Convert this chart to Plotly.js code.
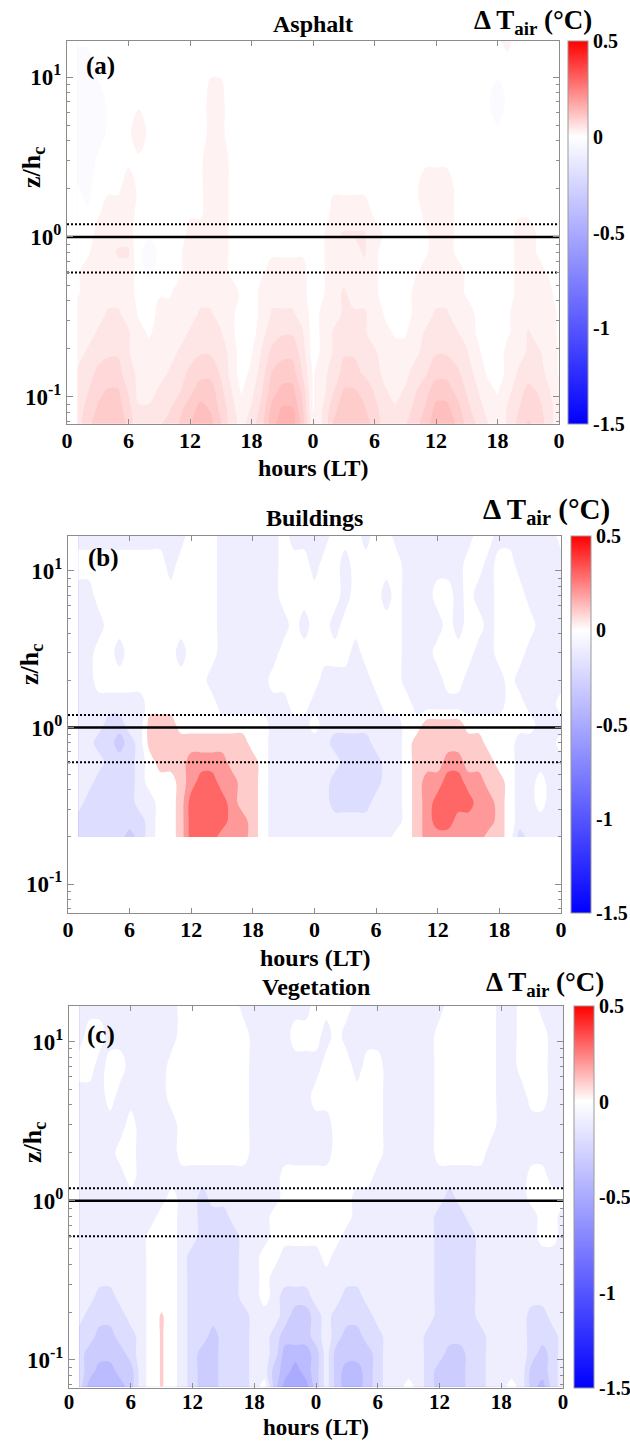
<!DOCTYPE html>
<html><head><meta charset="utf-8">
<script src="https://cdn.plot.ly/plotly-3.0.1.min.js"></script>
<style>html,body{margin:0;padding:0;background:#fff}#chart{width:630px;height:1441px}</style>
</head><body><div id="chart"></div>
<script>
// ---------------- DATA ----------------
const hours = [1,2,3,4,5,6,7,8,9,10,11,12,13,14,15,16,17,18,19,20,21,22,23,24,25,26,27,28,29,30,31,32,33,34,35,36,37,38,39,40,41,42,43,44,45,46,47,48];
const tickHours = [0,6,12,18,24,30,36,42,48];
const tickHourLabels = ['0','6','12','18','0','6','12','18','0'];
const heightsAsphaltVeg = [0.068,0.085,0.11,0.14,0.19,0.25,0.33,0.45,0.6,0.8,1.05,1.4,2,3,4.5,7,11,17];
const heightsBuildings = [0.2,0.25,0.33,0.45,0.6,0.8,1.05,1.4,2,3,4.5,7,11,17];
const yMajorTicks = [0.1,1,10];
const yMajorLabels = ['10<sup>-1</sup>','10<sup>0</sup>','10<sup>1</sup>'];
const yMinorTicks = [0.07,0.08,0.09,0.2,0.3,0.4,0.5,0.6,0.7,0.8,0.9,2,3,4,5,6,7,8,9];
const canopyTop = 1.2, canopyMid = 1.0, canopyBottom = 0.6;
const cbTicks = [-1.5,-1,-0.5,0,0.5];
const cbTickLabels = ['-1.5','-1','-0.5','0','0.5'];
const panelTitles = ['Asphalt','Buildings','Vegetation'];
const panelLetters = ['(a)','(b)','(c)'];

// each inner array = vertical profile at one hour (bottom -> top)
const dTAsphalt = [
[0.05,0.05,0.04,0.04,0.03,0.02,0.02,0.01,0.01,0,0,0,-0.01,-0.02,-0.02,-0.02,-0.02,-0.01],
[0.08,0.07,0.06,0.05,0.04,0.03,0.03,0.02,0.02,0.01,0,-0.01,-0.02,-0.02,-0.02,-0.02,-0.02,-0.01],
[0.1,0.09,0.08,0.07,0.05,0.04,0.03,0.03,0.02,0.02,0.02,0.01,0,-0.01,-0.02,-0.02,-0.01,-0.01],
[0.11,0.1,0.09,0.07,0.06,0.05,0.04,0.03,0.03,0.03,0.02,0.02,0.01,0,-0.01,-0.01,0,0],
[0.11,0.1,0.09,0.07,0.06,0.05,0.04,0.03,0.03,0.04,0.03,0.02,0.01,0.01,0,-0.01,-0.01,0],
[0.08,0.07,0.06,0.05,0.04,0.04,0.03,0.03,0.03,0.04,0.03,0.03,0.02,0.01,0.01,0,0,0],
[0.04,0.04,0.03,0.03,0.02,0.02,0.01,0,0,-0.01,-0.01,0,0.01,0.01,0.02,0.01,0,0],
[0.05,0.04,0.03,0.03,0.02,0.01,0,0,-0.02,-0.02,-0.01,0,0,0.01,0.01,0,-0.01,0],
[0.06,0.05,0.04,0.03,0.03,0.02,0.02,0.01,0,-0.01,0,0,0,0,0,0,-0.01,0],
[0.07,0.06,0.05,0.04,0.03,0.02,0.02,0.01,0,0,0,0,0,0,0,0,0,0],
[0.09,0.08,0.06,0.05,0.04,0.03,0.02,0.02,0.01,0.01,0,0,0,0,0,0,0,0],
[0.11,0.1,0.08,0.07,0.05,0.04,0.03,0.03,0.02,0.02,0.02,0.01,0.01,0,0,0,0,0],
[0.13,0.12,0.1,0.08,0.06,0.05,0.04,0.03,0.02,0.02,0.02,0.01,0.01,0.01,0,0,0,0],
[0.12,0.11,0.1,0.08,0.06,0.05,0.04,0.03,0.02,0.02,0.02,0.02,0.02,0.02,0.02,0.02,0.01,0],
[0.09,0.08,0.07,0.06,0.05,0.04,0.03,0.03,0.02,0.02,0.02,0.02,0.02,0.02,0.02,0.02,0.01,0],
[0.05,0.05,0.04,0.03,0.03,0.02,0.02,0.02,0.01,0.01,0.01,0.01,0.01,0.01,0,0,0,0],
[0.03,0.02,0.01,0,0,0,0,0.01,0.01,0.01,0,0,0,0,0,0,0,0],
[0.05,0.04,0.03,0.02,0.01,0,0,0,0,0,0,0,0,0,0,0,0,0],
[0.08,0.07,0.06,0.05,0.04,0.03,0.02,0.02,0.01,0.01,0.01,0.01,0.01,0.01,0,0,0,0],
[0.13,0.12,0.1,0.09,0.07,0.05,0.04,0.03,0.02,0.01,0.01,0.01,0.01,0.01,0,0,0,0],
[0.15,0.14,0.12,0.1,0.08,0.06,0.04,0.03,0.02,0.01,0,0,0,0,0,0,0,0],
[0.15,0.14,0.12,0.1,0.08,0.06,0.04,0.03,0.02,0.01,0,0,0,0,0,0,0,0],
[0.1,0.09,0.08,0.06,0.05,0.04,0.03,0.02,0.02,0.01,0,0,0,0,0,0,0,0],
[0.02,0.01,0.01,0.01,0,0,0,0,0,0,0,0,0,0,0,0,0,0],
[0.04,0.04,0.03,0.03,0.02,0.02,0.02,0.01,0.01,0.01,0.01,0,0,0,0,0,0.01,0.01],
[0.09,0.08,0.06,0.05,0.04,0.04,0.03,0.03,0.03,0.03,0.03,0.02,0.01,0,0,0,0,0],
[0.11,0.1,0.09,0.07,0.06,0.05,0.04,0.04,0.03,0.03,0.04,0.02,0.01,0,0,0,0,0],
[0.11,0.1,0.09,0.07,0.06,0.05,0.04,0.03,0.03,0.03,0.04,0.02,0.01,0,0,0,0,0],
[0.1,0.09,0.08,0.06,0.05,0.04,0.04,0.03,0.03,0.04,0.04,0.02,0.01,0,0,0,0,0],
[0.08,0.07,0.06,0.05,0.04,0.03,0.03,0.02,0.02,0.02,0.02,0.01,0,0,0,0,0,0],
[0.05,0.05,0.04,0.03,0.03,0.02,0.01,0,0,0,0.01,0,0,0,0,0,0,0],
[0.05,0.04,0.03,0.03,0.02,0.01,0,0,0,0,0,0,0,0,0,0,0,0],
[0.06,0.05,0.04,0.03,0.02,0.01,0,0,0,0,0,0,0,0,0,0,0,0],
[0.08,0.07,0.06,0.05,0.03,0.03,0.02,0.02,0.01,0.01,0,0,0.01,0.01,0,0,0,0],
[0.1,0.09,0.08,0.06,0.05,0.04,0.03,0.02,0.02,0.01,0.01,0.02,0.02,0.01,0,0,0,0],
[0.13,0.12,0.1,0.08,0.06,0.05,0.04,0.03,0.02,0.02,0.02,0.02,0.02,0.01,0,0,0,0],
[0.13,0.12,0.1,0.08,0.06,0.05,0.04,0.03,0.02,0.02,0.02,0.02,0.02,0.01,0.01,0,0,0],
[0.11,0.1,0.08,0.07,0.05,0.04,0.03,0.02,0.02,0.01,0.01,0.01,0.01,0.01,0.01,0,0,0],
[0.08,0.07,0.06,0.05,0.04,0.03,0.02,0.01,0.01,0.01,0,0,0.01,0.01,0.01,0,0,0],
[0.06,0.05,0.04,0.03,0.02,0.01,0.01,0,0,0,0,0,0,0,0,0,0,0],
[0.04,0.03,0.02,0.01,0,0,0,0,0,0,0,0,0,0,0,-0.01,-0.01,0],
[0.02,0.02,0.01,0,0,0,0,0,0,0,0,0,0,0,-0.01,-0.02,-0.01,0.01],
[0.04,0.04,0.03,0.02,0.02,0.01,0.01,0,0,0,0,0,0,0,-0.01,-0.01,0,0.02],
[0.07,0.06,0.05,0.04,0.03,0.02,0.02,0.02,0.02,0.02,0.02,0.01,0,0,0,0,0,0],
[0.09,0.08,0.07,0.05,0.04,0.04,0.03,0.03,0.02,0.02,0.02,0.01,0,0,0,0,0,0],
[0.08,0.07,0.06,0.05,0.04,0.03,0.03,0.02,0.02,0.01,0.01,0,0,0,0,0,0,0],
[0.05,0.05,0.04,0.03,0.03,0.02,0.02,0.02,0.01,0.01,0,0,0,0,0,0,0,0],
[0.02,0.02,0.02,0.01,0.01,0.01,0.01,0,0,0,0,0,0,0,0,0,0,0]
];

const dTBuildings = [
[-0.2,-0.2,-0.1,-0.1,-0.1,-0.1,-0.1,-0.1,-0.1,-0.1,-0.1,-0.1,0,-0.1],
[-0.2,-0.2,-0.2,-0.1,-0.1,-0.1,-0.1,-0.1,-0.1,-0.1,-0.1,-0.1,0,-0.1],
[-0.2,-0.2,-0.2,-0.2,-0.1,-0.2,-0.1,-0.1,0,0,-0.1,0,0,-0.1],
[-0.2,-0.2,-0.2,-0.2,-0.2,-0.2,-0.2,-0.1,0,0,0,0,0,-0.1],
[-0.2,-0.2,-0.2,-0.2,-0.2,-0.3,-0.2,-0.1,0,-0.1,0,0,0,-0.1],
[-0.3,-0.2,-0.2,-0.2,-0.2,-0.2,-0.1,-0.1,0,0,0,0,0,-0.1],
[-0.2,-0.2,-0.1,-0.1,-0.1,-0.1,-0.1,-0.1,0,0,0,0,0,-0.1],
[-0.1,-0.1,-0.1,0,0,0.1,0.1,0,0,0,0,0,0,-0.1],
[0,0,0,0,0.1,0.1,0.1,0,0,0,0,0,0,-0.1],
[0,0,0,0,0.1,0.1,0.1,0,0,0,0,0,-0.1,-0.1],
[0.1,0.1,0.1,0.1,0.1,0.1,0,0,0,-0.1,0,0,0,-0.1],
[0.3,0.3,0.3,0.2,0.2,0.1,0,0,0,0,0,0,0,0],
[0.3,0.3,0.3,0.3,0.2,0.1,0,0,0,0,0,0,0,0],
[0.3,0.3,0.3,0.3,0.2,0.1,0,0,-0.1,0,0,0,0,0],
[0.2,0.3,0.3,0.2,0.2,0.1,0,-0.1,-0.1,-0.1,-0.1,-0.1,-0.1,-0.1],
[0.2,0.2,0.2,0.2,0.1,0.1,0,-0.1,-0.1,-0.1,-0.1,-0.1,-0.1,-0.1],
[0.2,0.2,0.1,0.1,0.1,0.1,0,-0.1,-0.1,-0.1,-0.1,-0.1,-0.1,-0.1],
[0.1,0.1,0.1,0.1,0.1,0,0,-0.1,-0.1,-0.1,-0.1,-0.1,-0.1,-0.1],
[0,0,0,0,0,0,0,-0.1,-0.1,-0.1,-0.1,-0.1,-0.1,-0.1],
[-0.1,-0.1,-0.1,-0.1,-0.1,-0.1,-0.1,-0.1,0,-0.1,-0.1,-0.1,-0.1,-0.1],
[-0.1,-0.1,-0.1,-0.1,-0.1,-0.1,-0.1,-0.1,0,0,-0.1,0,0,0],
[-0.1,-0.1,-0.1,-0.1,-0.1,-0.1,-0.1,0,0,0,0,0,0,-0.1],
[-0.1,-0.1,-0.1,-0.1,-0.1,-0.1,-0.1,0,0,0,-0.1,0,0,-0.1],
[-0.1,-0.1,-0.1,-0.1,-0.1,-0.1,0,-0.1,0,0,0,0,-0.1,-0.1],
[-0.1,-0.1,-0.1,-0.1,-0.1,-0.1,-0.1,-0.1,-0.1,0,0,0,0,-0.1],
[-0.1,-0.1,-0.2,-0.2,-0.1,-0.2,-0.1,-0.1,-0.1,0,-0.1,0,0,0],
[-0.1,-0.1,-0.2,-0.2,-0.2,-0.2,-0.1,-0.1,-0.1,0,0,-0.1,-0.1,0],
[-0.1,-0.1,-0.2,-0.2,-0.2,-0.2,-0.1,-0.1,-0.1,-0.1,0,0,0,0],
[-0.1,-0.1,-0.2,-0.2,-0.2,-0.2,-0.1,-0.1,-0.1,0,0,0,0,-0.1],
[-0.1,-0.1,-0.1,-0.2,-0.2,-0.1,-0.1,-0.1,0,0,0,0,0,0],
[-0.1,-0.1,-0.1,-0.1,-0.1,-0.1,-0.1,0,0,0,0,-0.1,0,0],
[0,-0.1,-0.1,-0.1,-0.1,-0.1,-0.1,0,0,0,0,0,0,-0.1],
[0,0,0,0,0,0,0,0,-0.1,-0.1,-0.1,-0.1,-0.1,-0.1],
[0.1,0.1,0.1,0.1,0.1,0.1,0,-0.1,-0.1,-0.1,-0.1,-0.1,-0.1,-0.1],
[0.2,0.2,0.2,0.2,0.1,0.1,0.1,-0.1,-0.1,-0.1,-0.1,-0.1,-0.1,-0.1],
[0.2,0.3,0.3,0.2,0.1,0.1,0.1,-0.1,-0.1,0,-0.1,0,-0.1,-0.1],
[0.2,0.3,0.3,0.3,0.2,0.1,0.1,-0.1,0,0,0,0,-0.1,-0.1],
[0.2,0.2,0.3,0.3,0.2,0.1,0.1,-0.1,0,0,-0.1,-0.1,-0.1,-0.1],
[0.2,0.2,0.3,0.2,0.1,0.1,0,-0.1,-0.1,0,0,0,0,-0.1],
[0.2,0.2,0.2,0.2,0.1,0.1,0,-0.1,-0.1,-0.1,0,-0.1,0,0],
[0.1,0.2,0.2,0.1,0.1,0,0,-0.1,-0.1,-0.1,-0.1,-0.1,-0.1,0],
[0.1,0.1,0.1,0.1,0,0,0,-0.1,-0.1,0,0,0,0,-0.1],
[0,0,0,0,0,0,0,0,0,0,0,0,0,-0.1],
[-0.2,-0.1,-0.1,-0.1,-0.1,-0.1,0,0,-0.1,0,0,0,-0.1,-0.1],
[-0.1,-0.1,-0.1,-0.1,-0.1,-0.1,0,-0.1,-0.1,-0.1,0,-0.1,-0.1,-0.1],
[-0.1,-0.1,0,0,-0.1,-0.1,-0.1,-0.1,-0.1,-0.1,-0.1,-0.1,-0.1,-0.1],
[-0.1,-0.1,-0.1,-0.1,-0.1,-0.1,-0.1,-0.1,-0.1,-0.1,-0.1,-0.1,-0.1,-0.1],
[-0.1,-0.1,-0.1,-0.1,-0.1,0,-0.1,0,-0.1,-0.1,-0.1,-0.1,-0.1,0]
];

const dTVegetation = [
[-0.2,-0.2,-0.2,-0.2,-0.1,-0.1,-0.1,-0.1,-0.1,-0.1,-0.1,-0.1,-0.1,-0.1,-0.1,0,-0.1,-0.1],
[-0.4,-0.3,-0.3,-0.2,-0.2,-0.1,-0.1,-0.1,-0.1,-0.1,-0.1,-0.1,-0.1,-0.1,-0.1,0,0,-0.1],
[-0.4,-0.4,-0.3,-0.3,-0.2,-0.2,-0.1,-0.1,-0.1,-0.1,-0.1,-0.1,-0.1,-0.1,-0.1,-0.1,0,-0.1],
[-0.4,-0.4,-0.3,-0.3,-0.2,-0.2,-0.1,-0.1,-0.1,-0.1,-0.1,-0.1,-0.1,-0.1,0,0,-0.1,-0.1],
[-0.4,-0.3,-0.3,-0.2,-0.2,-0.1,-0.1,-0.1,-0.1,-0.1,-0.1,-0.1,0,-0.1,-0.1,0,-0.1,-0.1],
[-0.3,-0.3,-0.2,-0.2,-0.1,-0.1,-0.1,-0.1,-0.1,-0.1,-0.1,0,0,0,-0.1,-0.1,-0.1,-0.1],
[-0.1,-0.1,-0.1,-0.1,-0.1,-0.1,-0.1,-0.1,-0.1,-0.1,-0.1,-0.1,-0.1,-0.1,-0.1,-0.1,-0.1,-0.1],
[0,0,0,0,0,0,0,0,0,-0.1,-0.1,-0.1,-0.1,-0.1,-0.1,-0.1,-0.1,-0.1],
[0.06,0.06,0.06,0.06,0.06,0,0,0,0,0,-0.1,-0.1,-0.1,-0.1,-0.1,-0.1,-0.1,-0.1],
[0,0,0,0,0,0,0,0,0,0,0,-0.1,-0.1,-0.1,0,0,-0.1,-0.1],
[-0.1,-0.1,-0.1,-0.1,-0.1,-0.1,-0.1,-0.1,-0.1,-0.1,-0.1,-0.1,0,0,0,0,0,0],
[-0.2,-0.2,-0.2,-0.2,-0.2,-0.2,-0.2,-0.2,-0.1,-0.1,-0.1,-0.1,0,0,0,0,0,0],
[-0.3,-0.3,-0.3,-0.2,-0.2,-0.2,-0.2,-0.2,-0.2,-0.2,-0.2,-0.1,0,0,0,0,0,0],
[-0.3,-0.3,-0.3,-0.3,-0.2,-0.2,-0.2,-0.2,-0.2,-0.2,-0.1,-0.1,0,0,0,0,0,0],
[-0.2,-0.2,-0.2,-0.2,-0.2,-0.2,-0.2,-0.2,-0.2,-0.2,-0.1,-0.1,0,0,0,0,0,0],
[-0.2,-0.2,-0.2,-0.2,-0.2,-0.2,-0.2,-0.2,-0.2,-0.1,-0.1,-0.1,0,0,0,0,0,0],
[-0.2,-0.2,-0.2,-0.2,-0.2,-0.1,-0.1,-0.1,-0.1,-0.1,-0.1,-0.1,0,0,0,0,0,-0.1],
[-0.1,-0.1,-0.1,-0.1,-0.1,-0.1,-0.1,-0.1,-0.1,-0.1,-0.1,-0.1,-0.1,-0.1,-0.1,-0.1,-0.1,-0.1],
[0,-0.1,-0.1,-0.1,-0.1,0,0,0,-0.1,-0.1,-0.1,-0.1,-0.1,-0.1,-0.1,-0.1,-0.1,-0.1],
[-0.3,-0.3,-0.2,-0.2,-0.1,-0.1,-0.1,0,0,0,-0.1,-0.1,-0.1,-0.1,-0.1,-0.1,-0.1,-0.1],
[-0.5,-0.4,-0.4,-0.3,-0.2,-0.2,-0.1,-0.1,0,0,0,0,-0.1,-0.1,-0.1,-0.1,-0.1,-0.1],
[-0.5,-0.5,-0.4,-0.3,-0.3,-0.2,-0.1,-0.1,0,0,0,0,-0.1,-0.1,-0.1,-0.1,0,-0.1],
[-0.5,-0.4,-0.4,-0.3,-0.3,-0.2,-0.1,-0.1,0,0,0,0,-0.1,-0.1,-0.1,-0.1,0,-0.1],
[-0.3,-0.3,-0.3,-0.2,-0.2,-0.1,-0.1,-0.1,0,0,0,0,-0.1,-0.1,0,-0.1,0,0],
[-0.1,-0.1,-0.1,-0.1,-0.1,-0.1,-0.1,0,0,0,0,0,-0.1,-0.1,0,0,-0.1,0],
[-0.3,-0.3,-0.3,-0.2,-0.2,-0.1,-0.1,-0.1,0,0,0,0,0,0,0,0,0,0],
[-0.4,-0.4,-0.3,-0.3,-0.2,-0.2,-0.1,-0.1,-0.1,0,0,0,0,0,0,0,-0.1,0],
[-0.4,-0.4,-0.3,-0.3,-0.2,-0.2,-0.1,-0.1,-0.1,-0.1,-0.1,0,0,0,0,-0.1,-0.1,-0.1],
[-0.3,-0.3,-0.3,-0.2,-0.2,-0.1,-0.1,-0.1,-0.1,-0.1,-0.1,0,0,0,0,0,-0.1,-0.1],
[-0.2,-0.2,-0.2,-0.2,-0.1,-0.1,-0.1,-0.1,-0.1,-0.1,-0.1,-0.1,0,0,0,0,-0.1,-0.1],
[-0.1,-0.1,-0.1,-0.1,-0.1,-0.1,-0.1,-0.1,-0.1,-0.1,-0.1,-0.1,-0.1,-0.1,-0.1,-0.1,-0.1,-0.1],
[-0.1,-0.1,-0.1,-0.1,-0.1,-0.1,-0.1,-0.1,-0.1,-0.1,-0.1,-0.1,-0.1,-0.1,-0.1,-0.1,-0.1,-0.1],
[0,-0.1,-0.1,-0.1,-0.1,-0.1,-0.1,-0.1,-0.1,-0.1,-0.1,-0.1,-0.1,-0.1,-0.1,-0.1,-0.1,-0.1],
[-0.1,-0.1,-0.1,-0.1,-0.1,-0.1,-0.1,-0.1,-0.1,-0.1,-0.1,-0.1,-0.1,-0.1,-0.1,-0.1,-0.1,-0.1],
[-0.2,-0.2,-0.2,-0.2,-0.1,-0.1,-0.1,-0.1,-0.1,-0.1,-0.1,-0.1,-0.1,-0.1,-0.1,-0.1,-0.1,-0.1],
[-0.3,-0.3,-0.2,-0.2,-0.2,-0.2,-0.2,-0.2,-0.2,-0.2,-0.1,-0.1,0,0,0,0,0,-0.1],
[-0.3,-0.3,-0.3,-0.2,-0.2,-0.2,-0.2,-0.2,-0.2,-0.2,-0.2,-0.1,0,0,0,0,0,0],
[-0.3,-0.3,-0.3,-0.2,-0.2,-0.2,-0.2,-0.2,-0.2,-0.2,-0.1,-0.1,0,0,0,0,0,0],
[-0.2,-0.2,-0.2,-0.2,-0.2,-0.2,-0.2,-0.2,-0.2,-0.1,-0.1,-0.1,0,0,0,0,0,0],
[-0.2,-0.2,-0.2,-0.2,-0.1,-0.1,-0.1,-0.1,-0.1,-0.1,-0.1,-0.1,0,0,0,0,0,0],
[-0.1,-0.1,-0.1,-0.1,-0.1,-0.1,-0.1,-0.1,-0.1,-0.1,-0.1,-0.1,-0.1,0,0,0,0,0],
[-0.1,-0.1,-0.1,-0.1,-0.1,-0.1,-0.1,-0.1,-0.1,-0.1,-0.1,-0.1,-0.1,-0.1,-0.1,-0.1,-0.1,-0.1],
[0,-0.1,-0.1,-0.1,-0.1,-0.1,-0.1,-0.1,-0.1,-0.1,-0.1,-0.1,-0.1,-0.1,-0.1,-0.1,-0.1,-0.1],
[-0.1,-0.1,-0.1,-0.1,-0.1,-0.1,-0.1,-0.1,-0.1,-0.1,-0.1,-0.1,-0.1,-0.1,-0.1,0,0,0],
[-0.3,-0.3,-0.2,-0.2,-0.2,-0.1,-0.1,-0.1,-0.1,-0.1,0,0,-0.1,-0.1,0,0,0,0],
[-0.4,-0.3,-0.3,-0.2,-0.2,-0.1,-0.1,-0.1,0,0,0,0,-0.1,-0.1,0,0,0,-0.1],
[-0.2,-0.2,-0.2,-0.2,-0.1,-0.1,-0.1,-0.1,0,0,0,-0.1,-0.1,-0.1,-0.1,-0.1,-0.1,-0.1],
[-0.1,-0.1,-0.1,-0.1,-0.1,-0.1,-0.1,-0.1,-0.1,-0.1,0,-0.1,-0.1,-0.1,-0.1,-0.1,-0.1,-0.1]
];

// ---------------- LAYOUT / DRAW ----------------
const W = 630, H = 1441;
const px = v => v / W;
const py = v => 1 - v / H;
const FONT = 'Liberation Serif, Times New Roman, serif';
const AX = '#8c8c8c';
const colorscale = [[0,'rgb(0,0,255)'],[0.75,'rgb(255,255,255)'],[1,'rgb(255,0,0)']];

const panels = [
  {l:67, r:559, t:41,  b:424,  yr:[-1.169,1.225], cbL:568, z:dTAsphalt,    y:heightsAsphaltVeg, step:0.025,
   titleY:24, dtX:533, dtY:22, dtSize:27, letterX:100, letterY:66, ylabX:33, ylabY:168,
   xlabY:468, xlabAnchor:'middle', xlabSize:24, xtickSize:22, xtickOff:-3},
  {l:68, r:561, t:536, b:913,  yr:[-1.185,1.223], cbL:571, z:dTBuildings,  y:heightsBuildings,  step:0.1,
   titleY:518, dtX:546, dtY:511, dtSize:29, letterX:103, letterY:558, ylabX:31, ylabY:665,
   xlabY:958, xlabAnchor:'middle', xlabSize:24, xtickSize:22, xtickOff:-3},
  {l:69, r:563, t:1006,b:1388, yr:[-1.176,1.224], cbL:574, z:dTVegetation, y:heightsAsphaltVeg, step:0.1,
   titleY:987, dtX:545, dtY:984, dtSize:27, letterX:101, letterY:1035, ylabX:34, ylabY:1143,
   xlabY:1441, xlabAnchor:'bottom', xlabSize:23, xtickSize:21, xtickOff:-5}
];

const data = [];
const layout = {
  width: W, height: H, margin:{l:0,r:0,t:0,b:0},
  paper_bgcolor:'#fff', plot_bgcolor:'#fff', showlegend:false,
  font:{family:FONT, size:20, color:'#000'},
  annotations: []
};

panels.forEach((p, i) => {
  const n = i === 0 ? '' : String(i + 1);
  const xa = 'x' + n, ya = 'y' + n;
  const s = p.step;
  data.push({
    type:'contour', x:hours, y:p.y, z:p.z, transpose:true,
    xaxis:xa, yaxis:ya,
    colorscale: colorscale, zmin:-1.5, zmax:0.5, showscale:false,
    autocontour:false,
    contours:{start:-1.5 + s/2, end:0.5 - s/2, size:s, coloring:'fill', showlines:false},
    line:{width:0},
    hoverinfo:'skip'
  });
  // continuous colour bar (no visible marks of its own)
  data.push({
    type:'scatter', mode:'markers', x:[null], y:[null], xaxis:xa, yaxis:ya, hoverinfo:'skip',
    marker:{
      color:[cbTicks[0]], cmin:-1.5, cmax:0.5, colorscale:colorscale, showscale:true, size:1,
      colorbar:{
        x:px(p.cbL), xanchor:'left', xref:'paper',
        y:py((p.t + p.b) / 2), yanchor:'middle', yref:'paper',
        len:(p.b - p.t) / H, lenmode:'fraction',
        thickness:20, thicknessmode:'pixels',
        outlinewidth:1, outlinecolor:'#9a9a9a',
        xpad:0, ypad:0,
        tickmode:'array', tickvals:cbTicks, ticktext:cbTickLabels,
        ticks:'', ticklabelposition:'outside',
        tickfont:{family:FONT, size:20, color:'#000', weight:'bold'}
      }
    }
  });
  // canopy reference lines
  [[canopyTop,'2px,2px'],[canopyMid,'solid'],[canopyBottom,'2px,2px']].forEach(([lv, dash]) => {
    data.push({type:'scatter', mode:'lines', x:[tickHours[0], tickHours[tickHours.length-1]], y:[lv, lv],
      xaxis:xa, yaxis:ya, line:{color:'#000', width:dash === 'solid' ? 2.5 : 2, dash:dash}, hoverinfo:'skip'});
  });

  layout['xaxis' + n] = {
    domain:[px(p.l), px(p.r)], anchor:ya, range:[0,48],
    tickmode:'array', tickvals:tickHours, ticktext:tickHourLabels,
    ticks:'inside', ticklen:5, tickwidth:1, tickcolor:AX, ticklabelstandoff:p.xtickOff,
    showline:true, linecolor:AX, linewidth:1, mirror:'ticks',
    showgrid:false, zeroline:false,
    tickfont:{family:FONT, size:p.xtickSize, color:'#000', weight:'bold'}
  };
  layout['yaxis' + n] = {
    domain:[py(p.b), py(p.t)], anchor:xa, type:'log', range:p.yr,
    tickmode:'array', tickvals:yMajorTicks, ticktext:yMajorLabels,
    ticks:'inside', ticklen:6, tickwidth:1, tickcolor:AX,
    minor:{tickmode:'array', tickvals:yMinorTicks, ticks:'inside', ticklen:3, tickcolor:AX, tickwidth:1, showgrid:false},
    showline:true, linecolor:AX, linewidth:1, mirror:'ticks',
    showgrid:false, zeroline:false,
    tickfont:{family:FONT, size:23, color:'#000', weight:'bold'}
  };

  const ann = (x, y, text, size, extra) => Object.assign({
    xref:'paper', yref:'paper', x:px(x), y:py(y), xanchor:'center', yanchor:'middle',
    text:text, showarrow:false, font:{family:FONT, size:size, color:'#000', weight:'bold'}
  }, extra || {});
  layout.annotations.push(ann((p.l + p.r) / 2, p.titleY, '<b>' + panelTitles[i] + '</b>', 24));
  layout.annotations.push(ann(p.dtX, p.dtY, '<b>\u0394 T<sub>air</sub> (\u00b0C)</b>', p.dtSize));
  layout.annotations.push(ann(p.letterX, p.letterY, '<b>' + panelLetters[i] + '</b>', 25));
  layout.annotations.push(ann(p.ylabX, p.ylabY, '<b>z/h<sub>c</sub></b>', 26, {textangle:-90}));
  layout.annotations.push(ann((p.l + p.r) / 2, p.xlabY, '<b>hours (LT)</b>', p.xlabSize, {yanchor:p.xlabAnchor, borderpad:0}));
});

Plotly.newPlot('chart', data, layout, {displayModeBar:false, staticPlot:true});
</script>
</body></html>
